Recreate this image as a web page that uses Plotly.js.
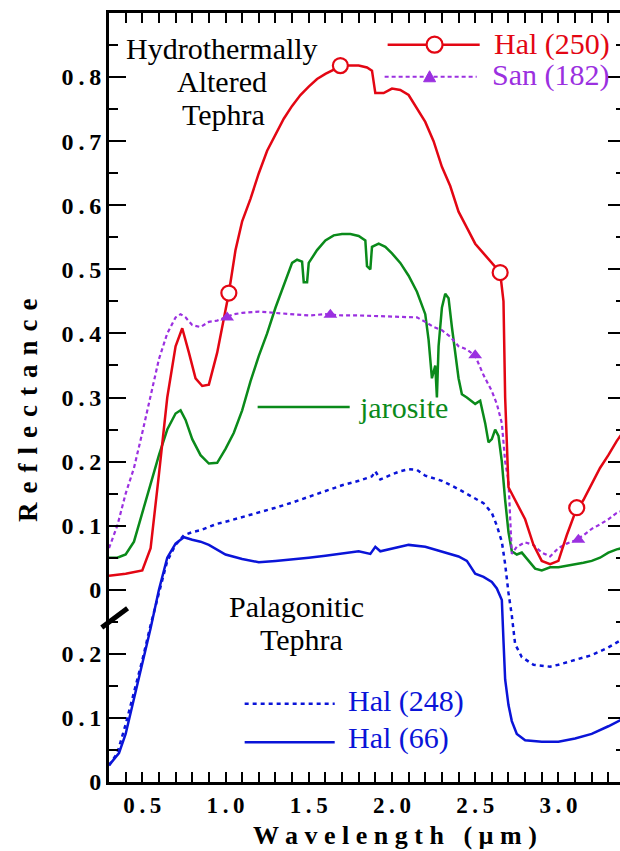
<!DOCTYPE html>
<html>
<head>
<meta charset="utf-8">
<script src="https://cdn.plot.ly/plotly-3.0.1.min.js"></script>
<style>
html, body { margin: 0; padding: 0; overflow: hidden; background: #fff; }
#chart { width: 626px; height: 851px; }
</style>
</head>
<body>
<div id="chart"></div>
<script>
// ---- Upper panel: Hydrothermally altered tephra (reflectance) ----
const hal250X = [0.30,0.40,0.50,0.55,0.60,0.65,0.70,0.74,0.78,0.82,0.86,0.90,0.95,1.00,1.02,1.06,1.10,1.15,1.20,1.25,1.30,1.35,1.40,1.45,1.50,1.55,1.60,1.65,1.70,1.75,1.80,1.85,1.88,1.90,1.95,2.00,2.05,2.10,2.15,2.20,2.25,2.30,2.35,2.40,2.45,2.50,2.55,2.60,2.65,2.67,2.68,2.70,2.72,2.75,2.80,2.85,2.90,2.95,3.00,3.05,3.10,3.15,3.20,3.25,3.30,3.35,3.40];
const hal250Y = [0.022,0.025,0.030,0.065,0.18,0.30,0.38,0.408,0.37,0.33,0.318,0.32,0.37,0.44,0.463,0.53,0.575,0.61,0.65,0.685,0.71,0.735,0.755,0.772,0.785,0.797,0.805,0.812,0.818,0.818,0.818,0.815,0.81,0.775,0.775,0.782,0.78,0.772,0.75,0.73,0.70,0.66,0.63,0.59,0.565,0.54,0.525,0.51,0.495,0.45,0.30,0.16,0.15,0.135,0.11,0.07,0.045,0.04,0.045,0.085,0.12,0.14,0.165,0.19,0.21,0.232,0.25];
const hal250MarkX = [1.02,1.69,2.65,3.11];
const hal250MarkY = [0.463,0.818,0.495,0.128];

const san182X = [0.30,0.35,0.40,0.45,0.50,0.55,0.60,0.65,0.70,0.73,0.76,0.80,0.85,0.90,0.95,1.00,1.05,1.10,1.20,1.30,1.40,1.50,1.60,1.70,1.80,1.90,2.00,2.10,2.15,2.20,2.25,2.30,2.35,2.40,2.45,2.50,2.55,2.60,2.63,2.66,2.68,2.70,2.71,2.72,2.75,2.80,2.85,2.90,2.95,3.00,3.05,3.10,3.15,3.20,3.25,3.30,3.35,3.40];
const san182Y = [0.065,0.10,0.15,0.19,0.245,0.30,0.36,0.40,0.425,0.43,0.425,0.413,0.41,0.418,0.42,0.425,0.43,0.432,0.434,0.432,0.43,0.428,0.43,0.428,0.428,0.427,0.427,0.425,0.425,0.418,0.41,0.405,0.395,0.38,0.375,0.365,0.335,0.31,0.29,0.26,0.20,0.17,0.11,0.056,0.067,0.074,0.07,0.058,0.052,0.065,0.072,0.077,0.085,0.095,0.102,0.11,0.12,0.125];
const san182MarkX = [1.01,1.63,2.50,3.12];
const san182MarkY = [0.425,0.429,0.366,0.078];

const jarositeX = [0.30,0.35,0.40,0.45,0.50,0.55,0.60,0.65,0.70,0.73,0.76,0.80,0.85,0.90,0.95,1.00,1.05,1.10,1.15,1.20,1.25,1.30,1.35,1.40,1.43,1.46,1.47,1.49,1.50,1.55,1.60,1.65,1.70,1.75,1.80,1.84,1.85,1.87,1.88,1.92,1.96,2.00,2.05,2.10,2.15,2.20,2.22,2.24,2.26,2.27,2.28,2.30,2.32,2.34,2.36,2.38,2.40,2.42,2.45,2.50,2.53,2.56,2.58,2.60,2.62,2.64,2.66,2.68,2.70,2.72,2.75,2.78,2.82,2.86,2.90,2.95,3.00,3.05,3.10,3.15,3.20,3.25,3.30,3.35,3.40];
const jarositeY = [0.05,0.05,0.055,0.075,0.12,0.165,0.21,0.25,0.275,0.28,0.265,0.235,0.21,0.197,0.198,0.22,0.245,0.28,0.325,0.365,0.40,0.44,0.475,0.51,0.515,0.512,0.48,0.48,0.51,0.53,0.545,0.553,0.555,0.555,0.552,0.545,0.505,0.50,0.535,0.54,0.535,0.525,0.51,0.49,0.465,0.43,0.39,0.33,0.35,0.30,0.38,0.44,0.462,0.455,0.41,0.37,0.33,0.305,0.30,0.29,0.295,0.26,0.23,0.235,0.25,0.24,0.20,0.14,0.09,0.06,0.055,0.058,0.045,0.033,0.03,0.035,0.035,0.037,0.04,0.042,0.045,0.05,0.058,0.063,0.066];

// ---- Lower panel: Palagonitic tephra (reflectance, own zero) ----
const hal248X = [0.30,0.35,0.40,0.45,0.50,0.55,0.60,0.65,0.70,0.75,0.80,0.85,0.90,0.95,1.00,1.10,1.20,1.30,1.40,1.50,1.60,1.70,1.80,1.88,1.90,1.93,2.00,2.05,2.10,2.15,2.20,2.30,2.40,2.50,2.55,2.60,2.63,2.66,2.68,2.70,2.72,2.74,2.78,2.85,2.90,2.95,3.00,3.10,3.20,3.30,3.40];
const hal248Y = [0.026,0.045,0.09,0.14,0.19,0.245,0.295,0.345,0.37,0.385,0.39,0.393,0.398,0.403,0.406,0.413,0.42,0.428,0.436,0.445,0.455,0.463,0.47,0.477,0.485,0.472,0.48,0.485,0.488,0.487,0.478,0.47,0.457,0.443,0.435,0.42,0.40,0.375,0.34,0.295,0.26,0.215,0.195,0.183,0.182,0.18,0.183,0.19,0.198,0.21,0.225];

const hal66X = [0.30,0.33,0.36,0.40,0.45,0.50,0.55,0.60,0.65,0.70,0.75,0.80,0.85,0.90,0.95,1.00,1.10,1.20,1.30,1.40,1.50,1.60,1.70,1.80,1.87,1.90,1.93,2.00,2.10,2.20,2.30,2.40,2.45,2.50,2.55,2.60,2.63,2.66,2.67,2.68,2.70,2.72,2.75,2.80,2.90,3.00,3.10,3.20,3.30,3.40];
const hal66Y = [0.026,0.035,0.045,0.075,0.13,0.18,0.24,0.30,0.35,0.372,0.382,0.378,0.375,0.37,0.362,0.355,0.348,0.343,0.345,0.347,0.35,0.353,0.357,0.36,0.356,0.367,0.36,0.364,0.37,0.367,0.36,0.352,0.345,0.325,0.32,0.312,0.302,0.284,0.22,0.16,0.12,0.095,0.075,0.065,0.063,0.063,0.068,0.075,0.087,0.10];

// ---- Axis tick labels ----
const TS = '\u2009';
const yTickVals = [-0.3,-0.2,-0.1,0,0.1,0.2,0.3,0.4,0.5,0.6,0.7,0.8];
const yTickText = ['0','0.1','0.2','0','0.1','0.2','0.3','0.4','0.5','0.6','0.7','0.8'].map(s => s.split('').join(TS));
const xTickVals = [0.5,1.0,1.5,2.0,2.5,3.0];
const xTickText = ['0.5','1.0','1.5','2.0','2.5','3.0'].map(s => s.split('').join(TS));
const xTitle = 'Wavelength (µm)';
const yTitle = 'Reflectance';

const RED = '#e30613', PURPLE = '#9b30e0', GREEN = '#0a8a1a', BLUE = '#0a14d8';
const SERIF = 'Liberation Serif, Times New Roman, serif';

const traces = [
  {x: hal248X, y: hal248Y, yaxis: 'y2', mode: 'lines', name: 'Hal (248)', line: {color: BLUE, width: 2.5, dash: '4px,4px'}},
  {x: hal66X, y: hal66Y, yaxis: 'y2', mode: 'lines', name: 'Hal (66)', line: {color: BLUE, width: 2.5}},
  {x: jarositeX, y: jarositeY, mode: 'lines', name: 'jarosite', line: {color: GREEN, width: 2.5}},
  {x: san182X, y: san182Y, mode: 'lines', name: 'San (182)', line: {color: PURPLE, width: 2.2, dash: '4px,3px'}},
  {x: hal250X, y: hal250Y, mode: 'lines', name: 'Hal (250)', line: {color: RED, width: 2.5}},
  {x: hal250MarkX, y: hal250MarkY, mode: 'markers', name: 'Hal (250) markers',
   marker: {symbol: 'circle', size: 15, color: 'white', line: {color: RED, width: 2.2}}},
  {x: san182MarkX, y: san182MarkY, mode: 'markers', name: 'San (182) markers',
   marker: {symbol: 'triangle-up', size: 12, color: PURPLE}}
];

function ann(x, y, text, color, xanchor) {
  return {x: x, y: y, xref: 'x', yref: 'y', text: text, showarrow: false,
          xanchor: xanchor || 'center', yanchor: 'middle',
          font: {family: SERIF, size: 30, color: color || 'black'}};
}

const annotations = [
  ann(0.977, 0.845, 'Hydrothermally'),
  ann(0.977, 0.793, 'Altered'),
  ann(0.985, 0.742, 'Tephra'),
  ann(1.427, -0.026, 'Palagonitic'),
  ann(1.457, -0.078, 'Tephra'),
  ann(2.598, 0.852, 'Hal (250)', RED, 'left'),
  ann(2.586, 0.803, 'San (182)', PURPLE, 'left'),
  ann(1.787, 0.285, 'jarosite', GREEN, 'left'),
  ann(1.722, -0.173, 'Hal (248)', BLUE, 'left'),
  ann(1.722, -0.232, 'Hal (66)', BLUE, 'left'),
  // axis titles (letter-spaced, bold)
  {xref: 'paper', yref: 'paper', x: 0.555, y: -0.069, xanchor: 'center', yanchor: 'middle', showarrow: false,
   text: xTitle.split('').join(' '), font: {family: SERIF, size: 26, color: 'black', weight: 'bold'}},
  {xref: 'paper', yref: 'paper', x: -0.158, y: 0.483, xanchor: 'center', yanchor: 'middle', showarrow: false, textangle: -90,
   text: yTitle.split('').join(' \u200A'), font: {family: SERIF, size: 27, color: 'black', weight: 'bold'}}
];

const shapes = [
  {type: 'line', xref: 'x', yref: 'y', x0: 1.974, x1: 2.527, y0: 0.8505, y1: 0.8505, line: {color: RED, width: 2.5}},
  {type: 'circle', xref: 'x', yref: 'y', xsizemode: 'pixel', ysizemode: 'pixel', xanchor: 2.256, yanchor: 0.8505,
   x0: -8, x1: 8, y0: -8, y1: 8, fillcolor: 'white', line: {color: RED, width: 2.2}},
  {type: 'line', xref: 'x', yref: 'y', x0: 1.956, x1: 2.509, y0: 0.8005, y1: 0.8005, line: {color: PURPLE, width: 2.2, dash: '4px,3px'}},
  {type: 'path', xref: 'x', yref: 'y', xsizemode: 'pixel', ysizemode: 'pixel', xanchor: 2.226, yanchor: 0.8005,
   path: 'M -6,-5 L 6,-5 L 0,6 Z', fillcolor: PURPLE, line: {color: PURPLE, width: 1}},
  {type: 'line', xref: 'x', yref: 'y', x0: 1.193, x1: 1.746, y0: 0.285, y1: 0.285, line: {color: GREEN, width: 2.5}},
  {type: 'line', xref: 'x', yref: 'y', x0: 1.115, x1: 1.656, y0: -0.178, y1: -0.178, line: {color: BLUE, width: 2.5, dash: '4px,4px'}},
  {type: 'line', xref: 'x', yref: 'y', x0: 1.115, x1: 1.656, y0: -0.238, y1: -0.238, line: {color: BLUE, width: 2.5}},
  // axis break mark
  {type: 'line', xref: 'paper', yref: 'paper', x0: -0.014, x1: 0.036, y0: 0.201, y1: 0.226, line: {color: 'black', width: 5}}
];

const layout = {
  width: 626, height: 851,
  margin: {l: 109, r: 1, t: 13, b: 69},
  paper_bgcolor: 'white', plot_bgcolor: 'white',
  showlegend: false,
  font: {family: SERIF, color: 'black'},
  xaxis: {
    range: [0.3, 3.4], showgrid: false, zeroline: false,
    showline: true, linecolor: 'black', linewidth: 3, mirror: 'allticks',
    ticks: 'inside', ticklen: 10, tickwidth: 2, tickcolor: 'black',
    tickvals: xTickVals, ticktext: xTickText, ticklabelstandoff: 0,
    tickfont: {family: SERIF, size: 23, color: 'black', weight: 'bold'},
    minor: {dtick: 0.1, ticks: 'inside', ticklen: 7, tickwidth: 2, tickcolor: 'black', showgrid: false}
  },
  yaxis: {
    range: [-0.3, 0.9], showgrid: false, zeroline: false,
    showline: true, linecolor: 'black', linewidth: 3, mirror: 'allticks',
    ticks: 'inside', ticklen: 17, tickwidth: 2, tickcolor: 'black',
    tickvals: yTickVals, ticktext: yTickText,
    tickfont: {family: SERIF, size: 24, color: 'black', weight: 'bold'},
    minor: {dtick: 0.05, ticks: 'inside', ticklen: 9, tickwidth: 2, tickcolor: 'black', showgrid: false}
  },
  yaxis2: {range: [0, 1.2], overlaying: 'y', visible: false, showgrid: false, zeroline: false},
  annotations: annotations,
  shapes: shapes
};

Plotly.newPlot('chart', traces, layout, {displayModeBar: false, staticPlot: true});
</script>
</body>
</html>
